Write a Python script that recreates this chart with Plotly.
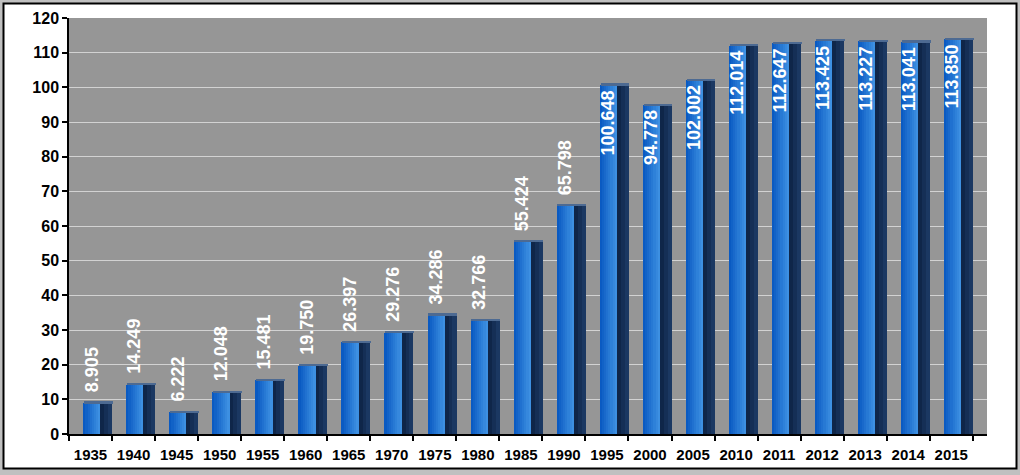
import plotly.graph_objects as go

years = ["1935", "1940", "1945", "1950", "1955", "1960", "1965", "1970", "1975", "1980",
         "1985", "1990", "1995", "2000", "2005", "2010", "2011", "2012", "2013", "2014", "2015"]
values = [8.905, 14.249, 6.222, 12.048, 15.481, 19.750, 26.397, 29.276, 34.286, 32.766,
          55.424, 65.798, 100.648, 94.778, 102.002, 112.014, 112.647, 113.425, 113.227, 113.041, 113.850]
labels = [f"{v:.3f}" for v in values]
y_ticks = list(range(0, 121, 10))

FONT = "Liberation Sans, Arial, sans-serif"


def lerp(c1, c2, t):
    a = [int(c1[i:i + 2], 16) for i in (1, 3, 5)]
    b = [int(c2[i:i + 2], 16) for i in (1, 3, 5)]
    return "rgb(%d,%d,%d)" % tuple(round(a[k] + (b[k] - a[k]) * t) for k in range(3))


fig = go.Figure()

# front face (gradient made of strips)
front_off, front_w, n_front = -0.17, 0.40, 8
for k in range(n_front):
    fig.add_trace(go.Bar(
        x=years, y=values,
        offset=front_off + k * front_w / n_front, width=front_w / n_front + 0.004,
        marker=dict(color=lerp("#0a5ac2", "#3d90e2", k / (n_front - 1)), line=dict(width=0)),
        hoverinfo="skip", showlegend=False))

# side face
side_off, side_w, n_side = 0.23, 0.27, 3
for k in range(n_side):
    fig.add_trace(go.Bar(
        x=years, y=values,
        offset=side_off + k * side_w / n_side, width=side_w / n_side + 0.004,
        marker=dict(color=lerp("#0f2649", "#1b3862", k / (n_side - 1)), line=dict(width=0)),
        hoverinfo="skip", showlegend=False))

# top cap
fig.add_trace(go.Bar(
    x=years, y=[0.5] * len(values), base=values,
    offset=front_off + 0.02, width=front_w + side_w,
    marker=dict(color="#4d6a92", line=dict(width=0)),
    hoverinfo="skip", showlegend=False))

annotations = []
for i, (v, lab) in enumerate(zip(values, labels)):
    inside = v >= 90
    annotations.append(dict(
        x=i, y=v, xref="x", yref="y", text="<b>" + lab + "</b>", showarrow=False, textangle=-90,
        xanchor="center", yanchor="top" if inside else "bottom",
        yshift=-3 if inside else 9, xshift=1,
        font=dict(family=FONT, size=18, color="white")))

# outer frame and plot-area background
L, R, T, B = 69, 33, 18, 41
PW, PH = 1020 - L - R, 475 - T - B


def px(x):
    return (x - L) / PW


def py(y):
    return (475 - B - y) / PH


shapes = [
    dict(type="rect", xref="paper", yref="paper", x0=px(3.5), x1=px(1016.5), y0=py(468.5), y1=py(3.5),
         fillcolor="white", line=dict(color="black", width=2), layer="below"),
    dict(type="rect", xref="x domain", yref="y domain", x0=0, x1=1, y0=0, y1=1,
         fillcolor="#969696", line=dict(width=0), layer="below"),
]

fig.update_layout(
    width=1020, height=475,
    margin=dict(l=L, r=R, t=T, b=B),
    paper_bgcolor="#c0c0c0", plot_bgcolor="rgba(0,0,0,0)",
    barmode="overlay", bargap=0,
    shapes=shapes, annotations=annotations,
    font=dict(family=FONT, color="black"),
    xaxis=dict(type="category", range=[-0.5, 20.83], tickson="boundaries",
               ticks="outside", ticklen=5, tickcolor="black", tickwidth=1.5,
               ticklabelstandoff=6, tickangle=0, automargin=False,
               showline=True, linecolor="black", linewidth=1.5, showgrid=False,
               tickfont=dict(family=FONT, size=15, color="black", weight="bold")),
    yaxis=dict(range=[0, 120], tickvals=y_ticks, ticks="outside", ticklen=5,
               tickcolor="black", tickwidth=1.5, showline=True, linecolor="black",
               linewidth=1.5, showgrid=True, gridcolor="#d2d2d2", gridwidth=1,
               zeroline=False, automargin=False,
               tickfont=dict(family=FONT, size=16, color="black", weight="bold")),
)

fig.write_html("out.html", config={"displayModeBar": False})

# remove default page margin so the figure sits at the window's top-left corner
with open("out.html", "r", encoding="utf-8") as f:
    html = f.read()
html = html.replace("<head>", "<head><style>html,body{margin:0;padding:0;background:#c0c0c0;}</style>", 1)
with open("out.html", "w", encoding="utf-8") as f:
    f.write(html)
